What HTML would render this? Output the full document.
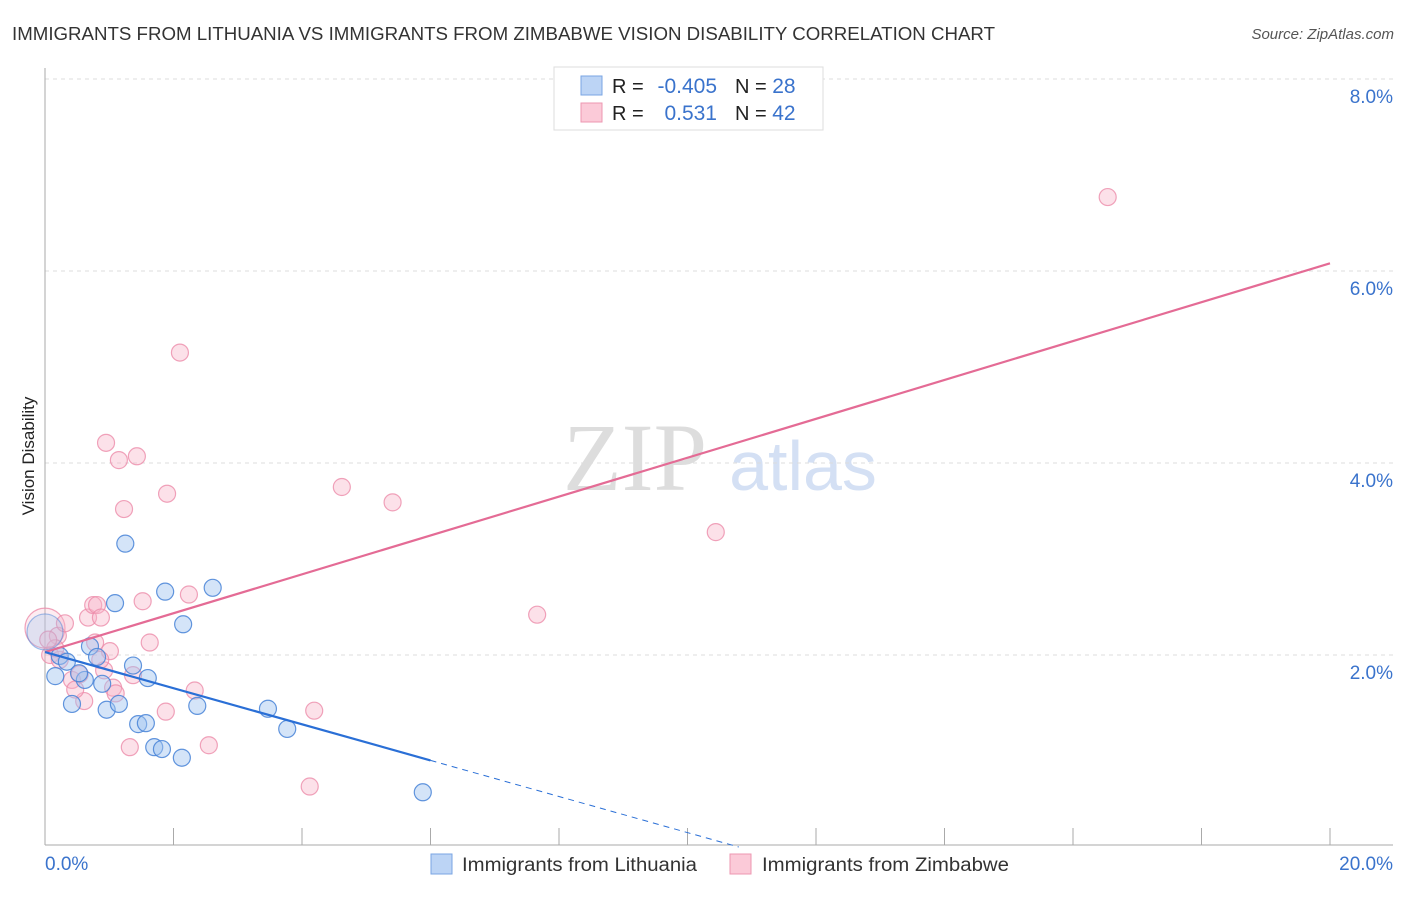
<!DOCTYPE html>
<html><head><meta charset="utf-8"><style>
body{margin:0;background:#fff;font-family:"Liberation Sans",sans-serif}
svg text{font-family:"Liberation Sans",sans-serif}
</style></head><body>
<svg id="c" width="1406" height="892" viewBox="0 0 1406 892">
<text x="12" y="40" font-size="18" fill="#333" textLength="983" lengthAdjust="spacingAndGlyphs">IMMIGRANTS FROM LITHUANIA VS IMMIGRANTS FROM ZIMBABWE VISION DISABILITY CORRELATION CHART</text>
<text x="1394" y="39" font-size="15" fill="#555" font-style="italic" text-anchor="end">Source: ZipAtlas.com</text>
<text x="34" y="456" font-size="17" fill="#222" text-anchor="middle" transform="rotate(-90 34 456)">Vision Disability</text>
<g>
<text x="635" y="490" font-size="96" fill="#ddd" text-anchor="middle" font-family="Liberation Serif" style="font-family:'Liberation Serif',serif">ZIP</text>
<text x="803" y="490" font-size="70" fill="#d4e0f4" text-anchor="middle">atlas</text>
</g>
<g id="grid"></g><g id="axes"></g><g id="pts"></g><g id="lines"></g>
<g>
<rect x="554" y="67" width="269" height="63" fill="#fff" stroke="#ddd"/>
<rect x="581" y="76" width="21" height="19" fill="#bcd4f5" stroke="#7aa5e3"/>
<rect x="581" y="103" width="21" height="19" fill="#fbcad8" stroke="#ec97b1"/>
<text x="612" y="93" font-size="20" fill="#222">R = </text>
<text x="717" y="93" font-size="21" fill="#3a73cc" text-anchor="end">-0.405</text>
<text x="735" y="93" font-size="20" fill="#222">N = <tspan fill="#3a73cc" font-size="21">28</tspan></text>
<text x="612" y="120" font-size="20" fill="#222">R = </text>
<text x="717" y="120" font-size="21" fill="#3a73cc" text-anchor="end">0.531</text>
<text x="735" y="120" font-size="20" fill="#222">N = <tspan fill="#3a73cc" font-size="21">42</tspan></text>
</g>
<g>
<rect x="431" y="854" width="21" height="20" fill="#bcd4f5" stroke="#7aa5e3"/>
<text x="462" y="871" font-size="19" fill="#333" textLength="235" lengthAdjust="spacingAndGlyphs">Immigrants from Lithuania</text>
<rect x="730" y="854" width="21" height="20" fill="#fbcad8" stroke="#ec97b1"/>
<text x="762" y="871" font-size="19" fill="#333" textLength="247" lengthAdjust="spacingAndGlyphs">Immigrants from Zimbabwe</text>
</g>
<text x="45" y="870" font-size="19" fill="#3a73cc">0.0%</text>
<text x="1393" y="870" font-size="19" fill="#3a73cc" text-anchor="end">20.0%</text>
</svg>
<script>
const yTicks=[2,4,6,8];
const yTickLabels=["2.0%","4.0%","6.0%","8.0%"];
const xTicks=[2,4,6,8,10,12,14,16,18,20];
const lithX=[0,.16,.23,.42,.34,.62,.53,.70,.81,.89,.96,1.09,1.15,1.25,1.37,1.45,1.57,1.60,1.70,1.82,1.87,2.13,2.15,2.37,2.61,3.47,3.77,5.88];
const lithY=[2.24,1.78,1.99,1.49,1.93,1.74,1.81,2.09,1.98,1.70,1.43,2.54,1.49,3.16,1.89,1.28,1.29,1.76,1.04,1.02,2.66,0.93,2.32,1.47,2.70,1.44,1.23,0.57];
const zimX=[0,.08,.2,.31,.42,.54,.61,.67,.75,.81,.87,.78,.95,1.01,.92,1.06,1.10,1.15,1.23,1.32,1.37,1.43,1.52,1.63,1.88,1.90,2.10,2.24,2.33,2.55,4.12,4.19,4.62,5.41,7.66,10.44,16.54,.23,.47,.86,.16,.05];
const zimY=[2.28,2.0,2.2,2.33,1.74,1.8,1.52,2.39,2.52,2.52,2.39,2.13,4.21,2.04,1.84,1.66,1.6,4.03,3.52,1.04,1.79,4.07,2.56,2.13,1.41,3.68,5.15,2.63,1.63,1.06,.63,1.42,3.75,3.59,2.42,3.28,6.77,1.95,1.64,1.95,2.07,2.16];
const lithFit=[2.03,-0.188];
const zimFit=[2.03,0.2025];
const NS="http://www.w3.org/2000/svg";
const X=v=>45+v/20*1285, Y=v=>847-v*96;
function mk(p,t,a){const e=document.createElementNS(NS,t);for(const k in a)e.setAttribute(k,a[k]);document.getElementById(p).appendChild(e);return e;}
yTicks.forEach((t,i)=>{
 const g=mk('grid','line',{x1:45,x2:1393,y1:Y(t),y2:Y(t),stroke:'#ddd','stroke-dasharray':'4,4'});
 
 
 const l=mk('grid','text',{x:1393,y:Y(t)+24,'font-size':19,fill:'#3a73cc','text-anchor':'end'});
 l.textContent=yTickLabels[i];
 
 
});
const ax=mk('axes','line',{x1:45,x2:45,y1:68,y2:845,stroke:'#aaa'});


const bx=mk('axes','line',{x1:45,x2:1393,y1:845,y2:845,stroke:'#aaa'});


xTicks.forEach(t=>{
 const k=mk('axes','line',{x1:X(t),x2:X(t),y1:828,y2:845,stroke:'#aaa'});
 
 
});
zimX.forEach((x,i)=>{
 const c=mk('pts','circle',{cx:X(x),cy:Y(zimY[i]),r:i==0?20:8.5,fill:i==0?'rgba(248,180,200,0.25)':'rgba(248,180,200,0.4)',stroke:'rgba(236,140,170,0.8)','stroke-width':1.2});
 
 
});
lithX.forEach((x,i)=>{
 const c=mk('pts','circle',{cx:X(x),cy:Y(lithY[i]),r:i==0?18:8.5,fill:i==0?'rgba(160,195,240,0.3)':'rgba(160,195,240,0.45)',stroke:i==0?'rgba(70,130,215,0.5)':'rgba(70,130,215,0.85)','stroke-width':1.2});
 
 
});
const pl=mk('lines','line',{x1:X(0),y1:Y(zimFit[0]),x2:X(20),y2:Y(zimFit[0]+zimFit[1]*20),stroke:'#e46b95','stroke-width':2.2});


const bl=mk('lines','line',{x1:X(0),y1:Y(lithFit[0]),x2:X(6),y2:Y(lithFit[0]+lithFit[1]*6),stroke:'#2a6fd6','stroke-width':2.2});


const x0=-lithFit[0]/lithFit[1];
const bd=mk('lines','line',{x1:X(6),y1:Y(lithFit[0]+lithFit[1]*6),x2:X(x0),y2:Y(0),stroke:'#2a6fd6','stroke-width':1,'stroke-dasharray':'6,5'});


</script>
</body></html>
